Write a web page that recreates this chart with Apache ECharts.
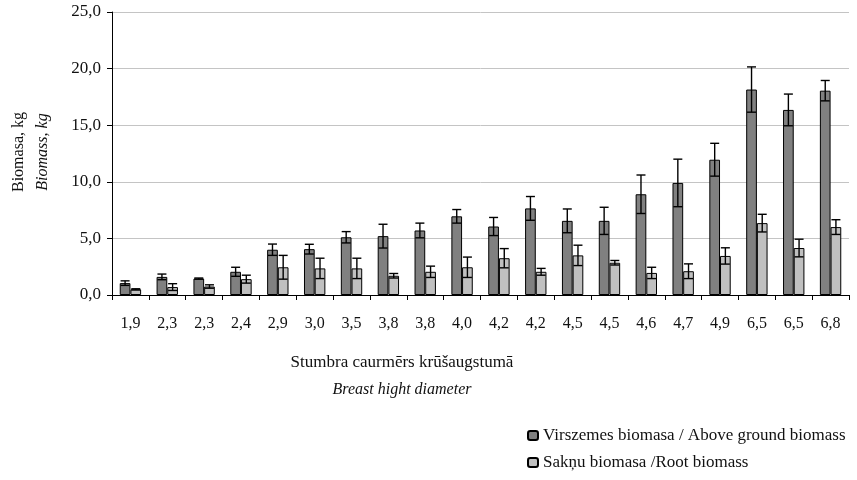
<!DOCTYPE html>
<html>
<head>
<meta charset="utf-8">
<script src="https://cdn.jsdelivr.net/npm/echarts@6/dist/echarts.min.js"></script>
<style>html,body{margin:0;padding:0;background:#fff}#c{width:857px;height:480px}</style>
</head>
<body>
<div id="c"></div>
<script>
const categories = ['1,9','2,3','2,3','2,4','2,9','3,0','3,5','3,8','3,8','4,0','4,2','4,2','4,5','4,5','4,6','4,7','4,9','6,5','6,5','6,8'];
const aboveGround = [1.05,1.6,1.45,2.05,4.0,4.05,5.1,5.2,5.7,6.95,6.05,7.65,6.55,6.55,8.9,9.9,11.95,18.15,16.35,18.05];
const aboveGroundErr = [0.2,0.25,0.05,0.4,0.5,0.43,0.5,1.05,0.65,0.6,0.8,1.05,1.05,1.2,1.7,2.1,1.45,2.0,1.4,0.9];
const root = [0.5,0.7,0.75,1.4,2.45,2.35,2.35,1.7,2.05,2.45,3.25,2.05,3.5,2.85,1.95,2.1,3.45,6.35,4.15,6.0];
const rootErr = [0.05,0.3,0.15,0.35,1.05,0.9,0.9,0.2,0.5,0.9,0.85,0.3,0.9,0.2,0.5,0.65,0.72,0.78,0.78,0.65];
const seriesNames = ['Virszemes biomasa / Above ground biomass', 'Sakņu biomasa /Root biomass'];
const yTicks = {min: 0, max: 25, interval: 5};

const FONT = '"Liberation Serif", "DejaVu Serif", serif';
const BAR_FRAC = 0.29;

function errRender(sign) {
  return function (params, api) {
    const idx = api.value(0), val = api.value(1), err = api.value(2);
    const band = api.size([1, 0])[0];
    const bw = band * BAR_FRAC;
    const cx = api.coord([idx, val])[0] + sign * bw / 2;
    const top = api.coord([idx, val + err])[1];
    const bot = api.coord([idx, Math.max(0, val - err)])[1];
    const cap = 4.5;
    const st = {stroke: '#000', lineWidth: 1.4};
    return {
      type: 'group',
      children: [
        {type: 'line', shape: {x1: cx, y1: top, x2: cx, y2: bot}, style: st},
        {type: 'line', shape: {x1: cx - cap, y1: top, x2: cx + cap, y2: top}, style: st},
        {type: 'line', shape: {x1: cx - cap, y1: bot, x2: cx + cap, y2: bot}, style: st}
      ]
    };
  };
}

const chart = echarts.init(document.getElementById('c'), null, {renderer: 'canvas'});
chart.setOption({
  animation: false,
  textStyle: {fontFamily: FONT},
  grid: {left: 112, right: 8, top: 12, height: 283, containLabel: false},
  legend: {
    orient: 'vertical', left: 522, top: 422, itemWidth: 10, itemHeight: 9, itemGap: 10,
    data: seriesNames,
    textStyle: {fontFamily: FONT, fontSize: 17, color: '#111'}
  },
  xAxis: {
    type: 'category', data: categories,
    axisLine: {lineStyle: {color: '#000', width: 1}},
    axisTick: {show: true, length: 5, alignWithLabel: false, lineStyle: {color: '#000'}},
    axisLabel: {fontFamily: FONT, fontSize: 16, color: '#111', margin: 21, interval: 0},
    splitLine: {show: false}
  },
  yAxis: {
    type: 'value', min: yTicks.min, max: yTicks.max, interval: yTicks.interval,
    axisLine: {show: true, lineStyle: {color: '#000', width: 1}},
    axisTick: {show: true, length: 5, lineStyle: {color: '#000'}},
    axisLabel: {fontFamily: FONT, fontSize: 17, color: '#111', margin: 11,
      formatter: v => v.toFixed(1).replace('.', ',')},
    splitLine: {lineStyle: {color: '#c4c4c4', width: 1}}
  },
  graphic: [
    {type: 'text', x: 19, y: 152, rotation: Math.PI / 2,
      style: {text: 'Biomasa, kg', font: '16px ' + FONT, fill: '#111', align: 'center', verticalAlign: 'middle'}},
    {type: 'text', x: 43, y: 152, rotation: Math.PI / 2,
      style: {text: 'Biomass, kg', font: 'italic 16px ' + FONT, fill: '#111', align: 'center', verticalAlign: 'middle'}},
    {type: 'text', x: 402, y: 363,
      style: {text: 'Stumbra caurmērs krūšaugstumā', font: '17px ' + FONT, fill: '#111', align: 'center', verticalAlign: 'middle'}},
    {type: 'text', x: 402, y: 390,
      style: {text: 'Breast hight diameter', font: 'italic 16px ' + FONT, fill: '#111', align: 'center', verticalAlign: 'middle'}}
  ],
  series: [
    {
      name: seriesNames[0], type: 'bar', data: aboveGround, barWidth: (BAR_FRAC * 100) + '%', barGap: '0%',
      itemStyle: {color: '#808080', borderColor: '#000', borderWidth: 1}
    },
    {
      name: seriesNames[1], type: 'bar', data: root, barWidth: (BAR_FRAC * 100) + '%', barGap: '0%',
      itemStyle: {color: '#c0c0c0', borderColor: '#000', borderWidth: 1}
    },
    {
      type: 'custom', renderItem: errRender(-1), z: 5,
      encode: {x: 0, y: 1},
      data: aboveGround.map((v, i) => [i, v, aboveGroundErr[i]])
    },
    {
      type: 'custom', renderItem: errRender(1), z: 5,
      encode: {x: 0, y: 1},
      data: root.map((v, i) => [i, v, rootErr[i]])
    }
  ]
});
</script>
</body>
</html>
